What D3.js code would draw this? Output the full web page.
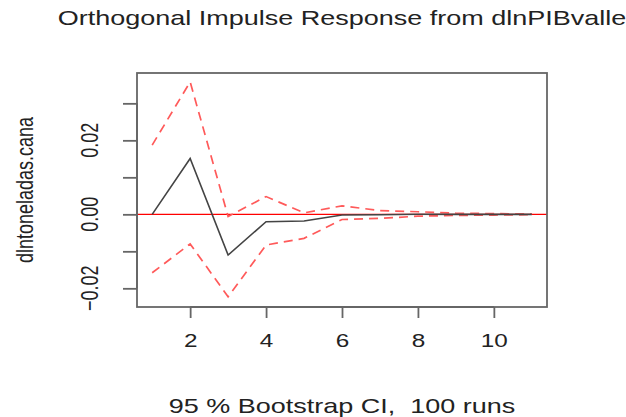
<!DOCTYPE html>
<html>
<head>
<meta charset="utf-8">
<script src="https://cdn.jsdelivr.net/npm/d3@7"></script>
<style>
  body { margin: 0; background: #fff; }
  text { font-family: 'Liberation Sans', Arial, sans-serif; white-space: pre; }
</style>
</head>
<body>
<svg id="chart" width="626" height="417"></svg>
<script>
/* global d3 */

let steps = [1, 2, 3, 4, 5, 6, 7, 8, 9, 10, 11]
let irf = [0, 0.0151, -0.0110, -0.0020, -0.0018, -0.0002, -0.0001, 0, 0, 0, 0]
let upper = [0.0187, 0.0358, -0.0006, 0.0048, 0.0004, 0.0023, 0.0010, 0.0007, 0.0003, 0.0002, 0.0001]
let lower = [-0.0158, -0.0080, -0.0223, -0.0083, -0.0065, -0.0014, -0.0011, -0.0005, -0.0003, -0.0002, -0.0001]
let xTicks = [2, 4, 6, 8, 10]
let yTicks = [-0.02, -0.01, 0, 0.01, 0.02, 0.03]
let yLabels = [-0.02, 0, 0.02]

// the picture is stretched sideways, so text is too
let stretch = 1.35
let box = {l: 137, t: 73, r: 547, b: 307}
let svg = d3.select('#chart')

let x = d3.scaleLinear().domain([0.6, 11.4]).range([box.l, box.r])
let y = d3.scaleLinear().domain([-0.02505, 0.0382]).range([box.b, box.t])

let line = function (vals) {
  return d3.line()
    .x((d, i) => x(steps[i]))
    .y(d => y(d))(vals)
}

// zero line
svg.append('line')
  .attr('x1', box.l).attr('x2', box.r)
  .attr('y1', y(0)).attr('y2', y(0))
  .attr('stroke', '#ff0000')
  .attr('stroke-width', 1.2)

// confidence bands
;[upper, lower].forEach(function (vals) {
  svg.append('path')
    .attr('d', line(vals))
    .attr('fill', 'none')
    .attr('stroke', '#ff5a5a')
    .attr('stroke-width', 1.7)
    .attr('stroke-dasharray', '9,6')
})

// response
svg.append('path')
  .attr('d', line(irf))
  .attr('fill', 'none')
  .attr('stroke', '#444')
  .attr('stroke-width', 1.6)

// frame
svg.append('rect')
  .attr('x', box.l).attr('y', box.t)
  .attr('width', box.r - box.l).attr('height', box.b - box.t)
  .attr('fill', 'none')
  .attr('stroke', '#666')
  .attr('stroke-width', 1.8)

// x axis
let xAxis = svg.append('g').attr('transform', 'translate(0,' + box.b + ')')
  .call(d3.axisBottom(x).tickValues(xTicks).tickSize(11).tickPadding(16).tickFormat(d3.format('d')))
xAxis.select('.domain')
  .attr('d', 'M' + x(2) + ',0H' + x(10))
  .attr('stroke', '#666').attr('stroke-width', 1.8)
xAxis.selectAll('.tick line').attr('stroke', '#666').attr('stroke-width', 1.8)
xAxis.selectAll('.tick text')
  .style('font-size', '18px')
  .attr('fill', '#222')
  .attr('transform', 'scale(' + stretch + ',1)')

// y axis
let yAxis = svg.append('g').attr('transform', 'translate(' + box.l + ',0)')
  .call(d3.axisLeft(y).tickValues(yTicks).tickSize(14).tickFormat(''))
yAxis.select('.domain')
  .attr('d', 'M0,' + y(-0.02) + 'V' + y(0.03))
  .attr('stroke', '#666').attr('stroke-width', 1.8)
yAxis.selectAll('.tick line').attr('stroke', '#666').attr('stroke-width', 1.8)

svg.selectAll('.ylab')
  .data(yLabels)
  .enter().append('text')
  .attr('class', 'ylab')
  .attr('transform', d => 'translate(98,' + y(d) + ') scale(' + stretch + ',1) rotate(-90)')
  .attr('text-anchor', 'middle')
  .style('font-size', '18px')
  .attr('fill', '#222')
  .text(d3.format('.2f'))

// titles
svg.append('text')
  .attr('transform', 'translate(' + (box.l + box.r) / 2 + ',25) scale(' + stretch + ',1)')
  .attr('text-anchor', 'middle')
  .style('font-size', '20px')
  .attr('fill', '#222')
  .text('Orthogonal Impulse Response from dlnPIBvalle')

svg.append('text')
  .attr('transform', 'translate(33,' + (box.t + box.b) / 2 + ') scale(' + stretch + ',1) rotate(-90)')
  .attr('text-anchor', 'middle')
  .style('font-size', '18px')
  .attr('fill', '#222')
  .text('dlntoneladas.cana')

svg.append('text')
  .attr('transform', 'translate(' + (box.l + box.r) / 2 + ',413) scale(' + stretch + ',1)')
  .attr('text-anchor', 'middle')
  .style('font-size', '20px')
  .attr('fill', '#222')
  .text('95 % Bootstrap CI,  100 runs')
</script>
</body>
</html>
